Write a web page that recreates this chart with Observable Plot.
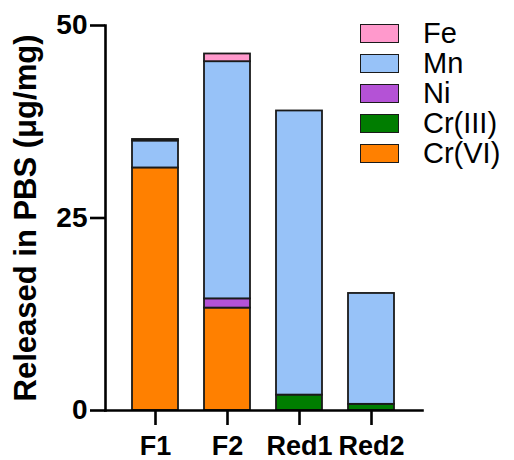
<!DOCTYPE html>
<html><head><meta charset="utf-8">
<script src="https://cdn.jsdelivr.net/npm/d3@7"></script>
<script src="https://cdn.jsdelivr.net/npm/@observablehq/plot@0.6"></script>
<style>
body{margin:0;background:#fff;font-family:"Liberation Sans",Arial,sans-serif}
#wrap{position:relative;width:514px;height:460px}
#legend{position:absolute;left:360px;top:18px}
.item{display:flex;align-items:center;height:30px}
.sw{width:37px;height:17px;border:1.5px solid #1a1a1a;box-sizing:content-box}
.lab{margin-left:24px;font-size:29px;line-height:30px;color:#000}
</style></head><body><div id="wrap"></div>
<script>
const samples = ["F1", "F2", "Red1", "Red2"];
const elements = ["Cr(VI)", "Cr(III)", "Ni", "Mn", "Fe"];
const colors = ["#ff8000", "#007d00", "#b452d6", "#97c2f8", "#ff99cc"];
const crVI  = [31.5, 13.3, 0, 0];
const crIII = [0, 0, 2.0, 0.8];
const ni    = [0, 1.2, 0, 0];
const mn    = [3.5, 30.8, 36.9, 14.4];
const fe    = [0.2, 1.0, 0, 0];
const yTicks = [0, 25, 50];
const yLabel = "Released in PBS (μg/mg)";

const series = [crVI, crIII, ni, mn, fe];
const data = [];
samples.forEach((s, i) => {
  elements.forEach((e, j) => {
    if (series[j][i] > 0) data.push({sample: s, element: e, value: series[j][i]});
  });
});

const font = '"Liberation Sans", Arial, sans-serif';
const chart = Plot.plot({
  width: 514,
  height: 460,
  marginLeft: 105,
  marginRight: 92,
  marginTop: 25,
  marginBottom: 50,
  style: {fontFamily: font, background: "#fff", color: "#000", overflow: "visible"},
  x: {domain: samples, paddingInner: 0.36, paddingOuter: 0.37},
  y: {domain: [0, 50]},
  color: {domain: elements, range: colors},
  marks: [
    Plot.barY(data, {x: "sample", y: "value", fill: "element", stroke: "#1a1a1a", strokeWidth: 1.8}),
    Plot.frame({anchor: "left", strokeWidth: 2.6}),
    Plot.frame({anchor: "bottom", strokeWidth: 2.6}),
    Plot.axisY({ticks: yTicks, tickSize: 15, tickPadding: 3, strokeWidth: 2.6, fontSize: 28, fontWeight: "bold", label: null}),
    Plot.axisY({ticks: [], tickSize: 0, label: yLabel, labelAnchor: "center", labelArrow: "none", labelOffset: 92, fontSize: 31, fontWeight: "bold"}),
    Plot.axisX({tickSize: 15, tickPadding: 10, strokeWidth: 2.6, fontSize: 27, fontWeight: "bold", label: null})
  ]
});

const wrap = document.getElementById("wrap");
wrap.appendChild(chart);
const legend = document.createElement("div");
legend.id = "legend";
elements.slice().reverse().forEach((e) => {
  const item = document.createElement("div");
  item.className = "item";
  const sw = document.createElement("div");
  sw.className = "sw";
  sw.style.background = colors[elements.indexOf(e)];
  const lab = document.createElement("span");
  lab.className = "lab";
  lab.textContent = e;
  item.appendChild(sw);
  item.appendChild(lab);
  legend.appendChild(item);
});
wrap.appendChild(legend);
</script></body></html>
